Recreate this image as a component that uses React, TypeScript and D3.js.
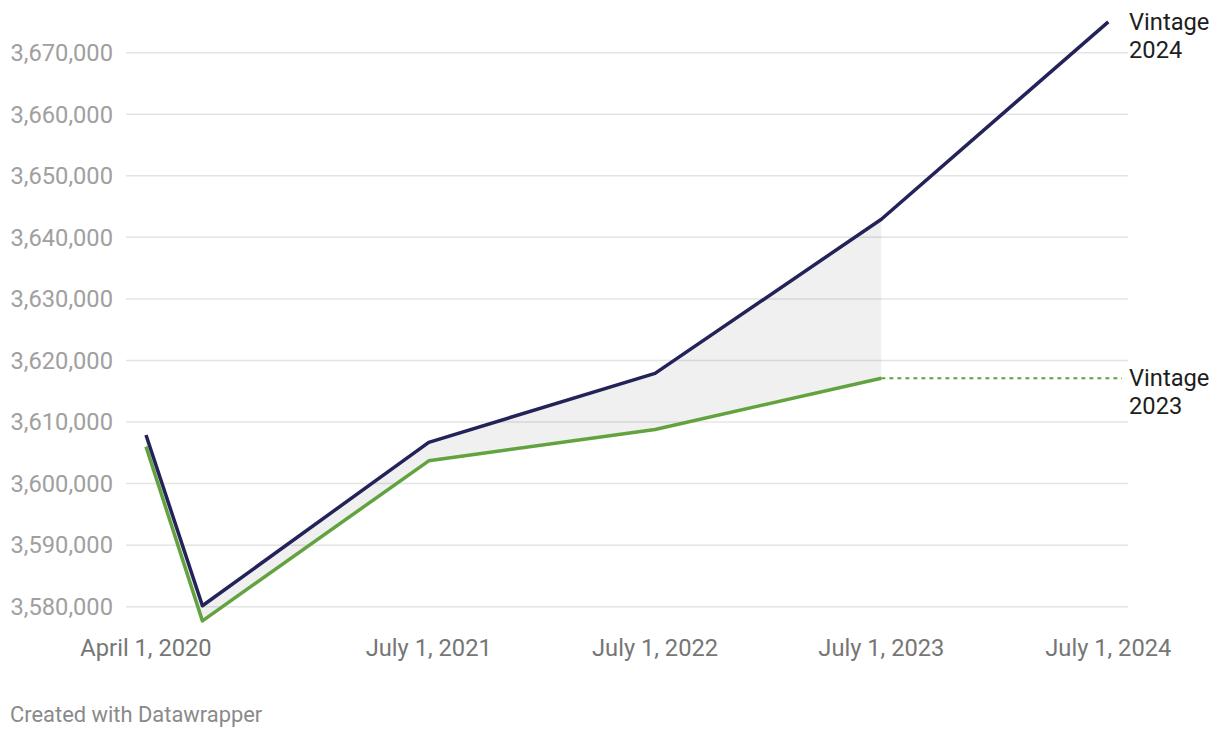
import React from 'react';
import * as d3 from 'd3';

// Connecticut population estimates, two vintages
const dates = ['2020-04-01', '2020-07-01', '2021-07-01', '2022-07-01', '2023-07-01', '2024-07-01'];
const vintage2024 = [3607900, 3580150, 3606700, 3617900, 3642950, 3675000];
const vintage2023 = [3606000, 3577700, 3603700, 3608800, 3617100, null];

const yTicks = [3580000, 3590000, 3600000, 3610000, 3620000, 3630000, 3640000, 3650000, 3660000, 3670000];
const xTickDates = ['2020-04-01', '2021-07-01', '2022-07-01', '2023-07-01', '2024-07-01'];
const xTickLabels = ['April 1, 2020', 'July 1, 2021', 'July 1, 2022', 'July 1, 2023', 'July 1, 2024'];

const width = 1220;
const height = 738;
const font = 'Roboto, "Noto Sans", sans-serif';

const parse = d3.utcParse('%Y-%m-%d');

export default function App() {
  const x = d3.scaleUtc()
    .domain([parse(dates[0])!, parse(dates[dates.length - 1])!])
    .range([146, 1108.3]);
  const y = d3.scaleLinear().domain([3580000, 3670000]).range([606.7, 52.7]);

  const pts24 = dates.map((d, i) => ({ date: parse(d)!, v: vintage2024[i] }));
  const pts23 = dates
    .map((d, i) => ({ date: parse(d)!, v: vintage2023[i] }))
    .filter(p => p.v !== null) as { date: Date; v: number }[];

  const line = d3.line<{ date: Date; v: number }>()
    .x(p => x(p.date))
    .y(p => y(p.v));

  // band between the two vintages where both exist
  const band = pts23.map((p, i) => ({ date: p.date, lo: p.v, hi: pts24[i].v }));
  const area = d3.area<{ date: Date; lo: number; hi: number }>()
    .x(p => x(p.date))
    .y0(p => y(p.lo))
    .y1(p => y(p.hi));

  const fmt = d3.format(',');
  const last23 = pts23[pts23.length - 1];
  const last24 = pts24[pts24.length - 1];

  return (
    <svg width={width} height={height} style={{ position: 'absolute', left: 0, top: 0, background: '#fff' }}
      fontFamily={font}>
      {/* grid */}
      {yTicks.map(t => (
        <g key={t}>
          <line x1={126} x2={1128} y1={y(t)} y2={y(t)} stroke="#e4e4e4" strokeWidth={1.5} />
          <text x={113} y={y(t)} dy="0.35em" textAnchor="end" fontSize={23.7} fill="#a0a0a0">
            {fmt(t)}
          </text>
        </g>
      ))}

      {/* x labels */}
      {xTickDates.map((d, i) => (
        <text key={d} x={x(parse(d)!)} y={655.7} textAnchor="middle" fontSize={23.7} fill="#767676">
          {xTickLabels[i]}
        </text>
      ))}

      <path d={area(band) || ''} fill="rgba(0,0,0,0.06)" />

      <line x1={x(last23.date)} x2={1122} y1={y(last23.v)} y2={y(last23.v)}
        stroke="#63a33f" strokeWidth={2} strokeDasharray="4,4" />

      <path d={line(pts23) || ''} fill="none" stroke="#63a33f" strokeWidth={3.5} strokeLinejoin="round" />
      <path d={line(pts24) || ''} fill="none" stroke="#23235a" strokeWidth={3.5} strokeLinejoin="round" />

      {/* series labels */}
      <text x={1129} y={y(last24.v) + 8} fontSize={23.7} fill="#1e1e1e">
        <tspan x={1129}>Vintage</tspan>
        <tspan x={1129} dy={28}>2024</tspan>
      </text>
      <text x={1129} y={y(last23.v) + 8} fontSize={23.7} fill="#1e1e1e">
        <tspan x={1129}>Vintage</tspan>
        <tspan x={1129} dy={28}>2023</tspan>
      </text>

      <text x={10} y={721.7} fontSize={21.9} fill="#8a8a8a">Created with Datawrapper</text>
    </svg>
  );
}
